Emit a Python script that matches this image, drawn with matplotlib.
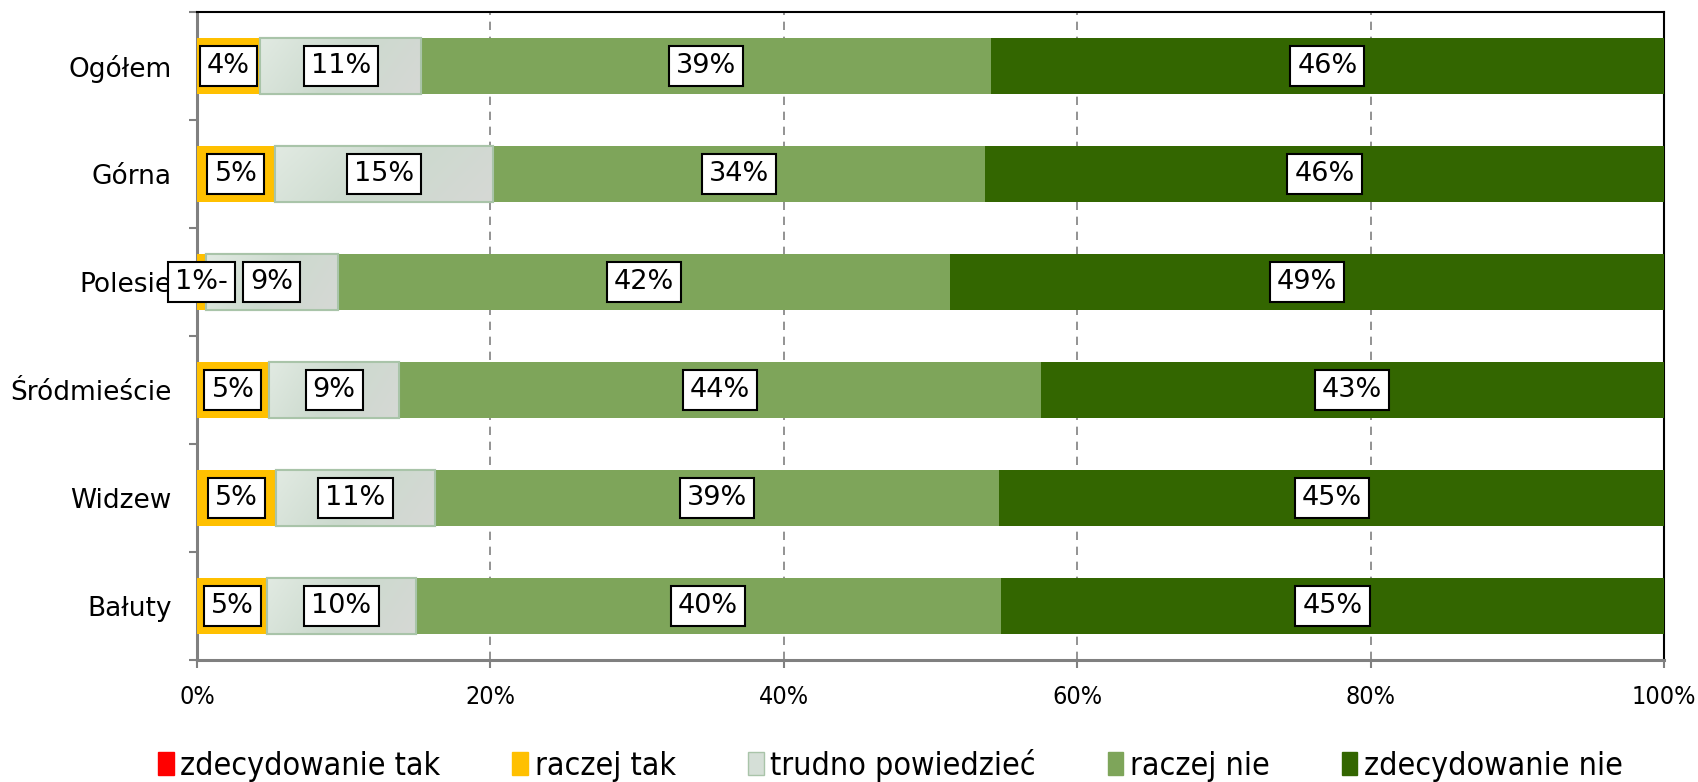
import matplotlib
matplotlib.use("Agg")
import matplotlib.pyplot as plt
from matplotlib.patches import Patch
from matplotlib.colors import LinearSegmentedColormap
import numpy as np

categories = ["Ogółem", "Górna", "Polesie", "Śródmieście", "Widzew", "Bałuty"]
series_names = ["zdecydowanie tak", "raczej tak", "trudno powiedzieć", "raczej nie", "zdecydowanie nie"]
zdec_tak = [0.0, 0.0, 0.0, 0.0, 0.0, 0.0]
raczej_tak = [4.3, 5.3, 0.6, 4.9, 5.4, 4.8]
trudno = [11.0, 14.9, 9.0, 8.9, 10.8, 10.1]
raczej_nie = [38.8, 33.5, 41.7, 43.7, 38.5, 39.9]
zdec_nie = [45.9, 46.3, 48.7, 42.5, 45.3, 45.2]
labels_raczej_tak = ["4%", "5%", "1%-", "5%", "5%", "5%"]
labels_trudno = ["11%", "15%", "9%", "9%", "11%", "10%"]
labels_raczej_nie = ["39%", "34%", "42%", "44%", "39%", "40%"]
labels_zdec_nie = ["46%", "46%", "49%", "43%", "45%", "45%"]
xtick_vals = [0, 20, 40, 60, 80, 100]
xtick_labels = ["0%", "20%", "40%", "60%", "80%", "100%"]

colors = ["#FF0000", "#FFC000", "#D5DFD7", "#7EA55A", "#336600"]
edges = ["none", "none", "#A9C4A9", "none", "none"]
grad_cmap = LinearSegmentedColormap.from_list("trudno", ["#E1EAE2", "#CCDACE", "#D6D8D5"])

fig = plt.figure(figsize=(16.99, 7.82), dpi=100)
ax = fig.add_axes([197/1699, 1 - 660/782, (1664-197)/1699, (660-12)/782])

y = np.arange(len(categories))
data = [zdec_tak, raczej_tak, trudno, raczej_nie, zdec_nie]
labs = [None, labels_raczej_tak, labels_trudno, labels_raczej_nie, labels_zdec_nie]
left = np.zeros(len(categories))
bh = 0.52
gx, gy = np.meshgrid(np.linspace(0, 1, 64), np.linspace(0, 1, 16))
grad = 0.8 * gx + 0.2 * gy
for i, vals in enumerate(data):
    vals = np.array(vals)
    bars = ax.barh(y, vals, left=left, height=bh, color=colors[i],
                   edgecolor=edges[i], linewidth=1.5 if edges[i] != "none" else 0, zorder=3)
    if i == 2:
        for j, b in enumerate(bars):
            im = ax.imshow(grad, cmap=grad_cmap, aspect="auto", interpolation="bilinear",
                           extent=[left[j], left[j] + vals[j], y[j] + bh / 2, y[j] - bh / 2],
                           zorder=3.5)
            im.set_clip_path(b)
            ax.barh(y[j], vals[j], left=left[j], height=bh, color="none",
                    edgecolor=edges[i], linewidth=1.5, zorder=3.6)
    if labs[i] is not None:
        for j, v in enumerate(vals):
            ax.text(left[j] + v / 2, y[j], labs[i][j], ha="center", va="center",
                    fontsize=19.5, color="black", zorder=5,
                    bbox=dict(boxstyle="square,pad=0.26", facecolor="white",
                              edgecolor="black", linewidth=1.5))
    left = left + vals

ax.set_xlim(0, 100)
ax.set_ylim(len(categories) - 0.5, -0.5)
ax.set_yticks(y)
ax.set_yticklabels(categories, fontsize=19)
ax.set_yticks(np.arange(-0.5, len(categories) + 0.5, 1), minor=True)
ax.tick_params(axis="y", which="major", length=0, pad=18)
ax.tick_params(axis="y", which="minor", length=6, color="#808080", width=1.5)
ax.set_xticks(xtick_vals)
ax.set_xticklabels(xtick_labels, fontsize=18, fontstretch="condensed")
ax.tick_params(axis="x", length=6, color="#808080", width=1.5, pad=12)

ax.grid(axis="x", linestyle=(0, (5, 4)), color="#808080", linewidth=1.2, zorder=0)
for s in ["left", "bottom"]:
    ax.spines[s].set_color("#808080")
    ax.spines[s].set_linewidth(2.2)
for s in ["top", "right"]:
    ax.spines[s].set_color("black")
    ax.spines[s].set_linewidth(1.5)

handles = [Patch(facecolor=colors[i], edgecolor=edges[i] if edges[i] != "none" else colors[i],
                 label=series_names[i]) for i in range(5)]
fig.legend(handles=handles, loc="center", bbox_to_anchor=(0.524, 1 - 765/782), ncol=5,
           frameon=False, handlelength=0.5, handleheight=0.75,
           handletextpad=0.2, columnspacing=2.25,
           prop=dict(size=23, stretch="condensed"))

fig.savefig("out.png", dpi=100)
